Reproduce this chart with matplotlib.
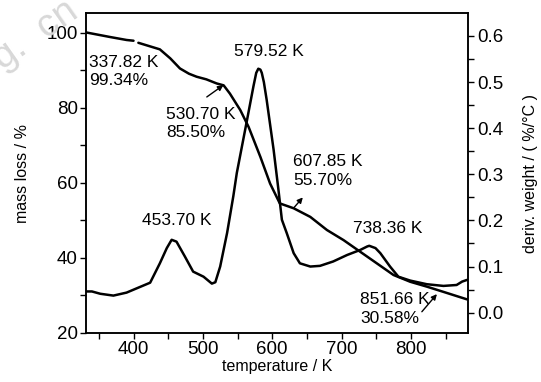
import numpy as np
import matplotlib
matplotlib.use("Agg")
import matplotlib.pyplot as plt
from matplotlib import font_manager
from matplotlib.ticker import MultipleLocator, FormatStrFormatter

# pick a narrow Arial-like face if it is installed
names = {f.name for f in font_manager.fontManager.ttflist}
NARROW = "Liberation Sans Narrow" if "Liberation Sans Narrow" in names else "Liberation Sans"
REGULAR = "Liberation Sans"
plt.rcParams["font.family"] = [NARROW, "DejaVu Sans"]

# ── data ──────────────────────────────────────────────────────────────────────
# TG curve: mass loss (%) vs temperature (K); NaN = small gap in the trace
tg_temp = [332, 366, 390, 400, np.nan, 407, 438, 453, 467, 480, 491, 505, 520,
           530, 539, 554, 566, 583, 597, 611, 631, 655, 679, 703, 727, 751,
           775, 799, 823, 847, 881]
tg_mass = [100.1, 98.9, 98.1, 97.9, np.nan, 97.35, 95.6, 93.2, 90.5, 89.1,
           88.3, 87.6, 86.5, 86.0, 83.8, 79.4, 74.9, 66.9, 59.8, 54.5, 53.2,
           50.9, 47.4, 44.7, 41.6, 38.5, 35.4, 33.6, 32.3, 30.9, 28.9]

# DTG curve: derivative weight (%/°C) vs temperature (K)
dtg_temp = [332, 340, 352, 371, 390, 405, 424, 438, 448, 455, 462, 474, 486,
            501, 513, 518, 525, 535, 544, 549, 563, 573, 577, 580, 583, 585,
            588, 592, 602, 609, 614, 621, 631, 640, 655, 669, 688, 708, 727,
            737, 740, 749, 756, 770, 782, 799, 823, 847, 866, 874, 881]
dtg_val = [0.046, 0.046, 0.041, 0.037, 0.0435, 0.053, 0.065, 0.107, 0.140,
           0.158, 0.154, 0.122, 0.089, 0.078, 0.063, 0.066, 0.100, 0.173,
           0.253, 0.303, 0.412, 0.491, 0.520, 0.529, 0.527, 0.520, 0.500,
           0.462, 0.354, 0.267, 0.2015, 0.1726, 0.129, 0.107, 0.100, 0.1015,
           0.111, 0.125, 0.136, 0.1435, 0.145, 0.140, 0.129, 0.100, 0.078,
           0.0696, 0.0617, 0.058, 0.060, 0.0674, 0.071]

# peak / step annotations: text, text position, arrow (tail, head) or None
ann_text = ["337.82 K\n99.34%", "530.70 K\n85.50%", "579.52 K",
            "607.85 K\n55.70%", "453.70 K", "738.36 K", "851.66 K\n30.58%"]
ann_pos = [(335.5, 89.7), (447.5, 75.8), (595.6, 94.9), (630.3, 63.2),
           (462.4, 50.0), (766.6, 47.9), (726.5, 26.3)]
ann_ha = ["left", "left", "center", "left", "center", "center", "left"]
ann_arrow = [None, ((505.7, 82.9), (529.6, 86.05)), None,
             ((630.6, 53.2), (644.2, 56.1)), None, None,
             ((815.9, 25.6), (837.6, 30.3))]

LW = 1.8
fig = plt.figure(figsize=(5.41, 3.82), dpi=100)
fig.patch.set_facecolor("white")

# faint watermark, partly hidden behind the axes
fig.text(0.004, 0.815, "g.  cn", rotation=35, rotation_mode="anchor",
         ha="left", va="baseline", fontsize=28, color="#d8d8d8",
         family=REGULAR, zorder=0)

ax1 = fig.add_axes([0.159, 0.129, 0.7055, 0.836])
ax1.set_facecolor("white")
ax2 = ax1.twinx()

ax1.plot(tg_temp, tg_mass, color="black", lw=LW, solid_capstyle="round")
ax2.plot(dtg_temp, dtg_val, color="black", lw=LW, solid_capstyle="round")

ax1.set_xlim(331.5, 882)
ax1.set_ylim(20, 105.2)
ax2.set_ylim(-0.0435, 0.649)

ax1.xaxis.set_major_locator(MultipleLocator(100))
ax1.xaxis.set_minor_locator(MultipleLocator(50))
ax1.yaxis.set_major_locator(MultipleLocator(20))
ax1.yaxis.set_minor_locator(MultipleLocator(10))
ax2.yaxis.set_major_locator(MultipleLocator(0.1))
ax2.yaxis.set_minor_locator(MultipleLocator(0.05))
ax2.yaxis.set_major_formatter(FormatStrFormatter("%.1f"))

for ax in (ax1, ax2):
    for s in ax.spines.values():
        s.set_linewidth(1.1)
    ax.tick_params(which="both", direction="out", length=4, width=1.0,
                   labelsize=13.5, pad=2)
ax1.tick_params(axis="x", which="both", top=False)
ax1.tick_params(axis="y", which="both", right=False)
ax2.tick_params(axis="y", which="both", pad=3)

ax1.set_xlabel("temperature / K", fontsize=11.5, family=REGULAR, labelpad=1)
ax1.set_ylabel("mass loss / %", fontsize=11.5, family=REGULAR, labelpad=12)
ax2.set_ylabel("deriv. weight / ( %/°C )", fontsize=11.5, family=REGULAR,
               labelpad=14)

for txt, (tx, ty), ha, arr in zip(ann_text, ann_pos, ann_ha, ann_arrow):
    ax1.text(tx, ty, txt, ha=ha, va="center", fontsize=12.5, linespacing=1.3)
    if arr is not None:
        (x0, y0), (x1, y1) = arr
        ax1.annotate("", xy=(x1, y1), xytext=(x0, y0),
                     arrowprops=dict(arrowstyle="-|>", color="black", lw=1.0,
                                     mutation_scale=8, shrinkA=0, shrinkB=0))

fig.savefig("out.png", dpi=100, facecolor="white")
